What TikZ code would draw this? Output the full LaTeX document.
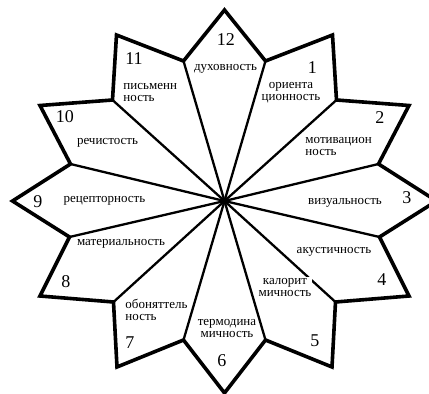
\documentclass[tikz,border=0pt]{standalone}
\usepackage{fontspec}
\setmainfont{Liberation Serif}
\usetikzlibrary{calc}
\tikzset{
    petal/diagram/.style={
        x=1pt, y=1pt,
        line cap=round,
        every node/.style={inner sep=1pt, outer sep=0pt}
    },
    petal/outline/.style={draw=black, line width=3.6pt, line join=miter},
    petal/ray/.style={draw=black, line width=2.3pt},
    petal/number/.style={font=\fontsize{18}{18}\selectfont},
    petal/label/.style={font=\fontsize{13}{12}\selectfont, fill=white,
        inner sep=0.5pt}
}

\begin{document}
\begin{tikzpicture}[petal/diagram]
    \useasboundingbox (-224.5,-193) rectangle (204.5,201);
    \clip (-224.5,-193) rectangle (204.5,201);
    % outer corners and inner corners of the star
    \coordinate (c) at (0,0);
    \coordinate (v1) at (41,140);
    \coordinate (v2) at (112,101);
    \coordinate (v3) at (154,37);
    \coordinate (v4) at (155,-36);
    \coordinate (v5) at (111,-101);
    \coordinate (v6) at (41,-139);
    \coordinate (v7) at (-41,-139);
    \coordinate (v8) at (-111,-101);
    \coordinate (v9) at (-155,-36);
    \coordinate (v10) at (-154,37);
    \coordinate (v11) at (-112,101);
    \coordinate (v12) at (-41,140);
    \def\StarBoundary{
        (0,191) -- (v1) -- (108,166) -- (v2) -- (184.5,95.5)
        -- (v3) -- (212,0) -- (v4) -- (184.5,-95) -- (v5)
        -- (107.5,-166) -- (v6) -- (0,-192) -- (v7) -- (-107.5,-166)
        -- (v8) -- (-184.5,-95) -- (v9) -- (-212,0) -- (v10)
        -- (-184.5,95.5) -- (v11) -- (-108,166) -- (v12) -- cycle
    }
    \foreach \i in {1,...,12}
        \draw[petal/ray] (c) -- (v\i);
    \draw[petal/outline] \StarBoundary;
    % numbers
    \node[petal/number] (n12) at (1.5,161) {12};
    \node[petal/number] (n1) at (88,133) {1};
    \node[petal/number] (n2) at (155.5,83) {2};
    \node[petal/number] (n3) at (182.5,3) {3};
    \node[petal/number] (n4) at (157.5,-79) {4};
    \node[petal/number] (n5) at (90.5,-140) {5};
    \node[petal/number] (n6) at (-2.5,-160) {6};
    \node[petal/number] (n7) at (-94.5,-142) {7};
    \node[petal/number] (n8) at (-158.5,-81) {8};
    \node[petal/number] (n9) at (-186.5,-1) {9};
    \node[petal/number] (n10) at (-159.5,84) {10};
    \node[petal/number] (n11) at (-90.5,142) {11};
    % labels
    \node[petal/label] (l12) at (1,132) {духовность};
    \node[petal/label, align=center] (l1) at (66.5,108) {ориента\\ционность};
    \node[petal/label, align=left, anchor=west] (l2) at (80.5,55)
        {мотивацион\\ность};
    \node[petal/label] (l3) at (120.5,-2) {визуальность};
    \node[petal/label] (l4) at (109.5,-51) {акустичность};
    \node[petal/label, align=center] (l5) at (60.5,-86) {калорит\\мичность};
    \node[petal/label, align=center] (l6) at (2.5,-127.5)
        {термодина\\мичность};
    \node[petal/label, align=left, anchor=west] (l7) at (-99.5,-109)
        {обоняттель\\ность};
    \node[petal/label] (l8) at (-103.5,-43) {материальность};
    \node[petal/label] (l9) at (-120,0) {рецепторность};
    \node[petal/label] (l10) at (-117,58) {речистость};
    \node[petal/label, align=left, anchor=west] (l11) at (-101.5,108)
        {письменн\\ность};
\end{tikzpicture}
\end{document}
